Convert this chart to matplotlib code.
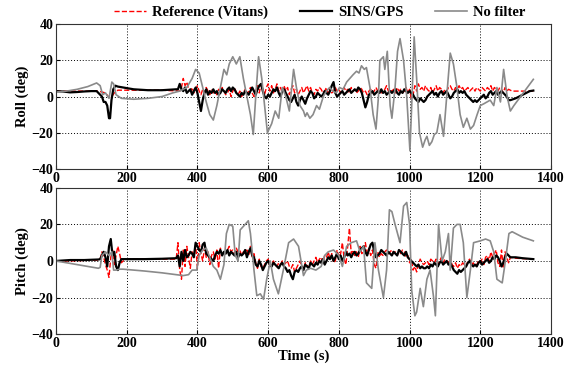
import numpy as np
import matplotlib.pyplot as plt

plt.rcParams['font.family'] = 'Liberation Serif'
plt.rcParams['font.weight'] = 'bold'

# ---------------- Roll ----------------
# calm part (breakpoints) before the vehicle starts moving
roll_ref_t0 = [0, 40, 80, 120, 140, 150, 158, 165, 175, 200, 250, 300, 345]
roll_ref_v0 = [3, 3, 3, 3, 2, -0.5, 0, 2, 3.5, 3.5, 3.5, 3.5, 3]
# noisy part sampled every 5 s from 350 s to 1280 s
roll_ref_noisy = [
    3, 5, 10, 6, 8, 4, 3, 5, 2, 4, 6, 3, 1, 4, 2, 5, 3, 1, 4, 2,
    3, 1, 4, 2, 5, 3, 1, 2, 4, 0, 3, 5, 2, 1, 3, 0, 2, 4, 1, 3,
    5, 2, 0, 3, 6, 2, 7, 4, 1, 5, 7, 3, 6, 2, 4, 7, 3, 5, 2, 6,
    3, 5, 1, 4, 6, 2, 4, 1, 3, 5, 2, 4, 6, 3, 5, 2, 1, 4, 3, 5,
    4, 2, 3, 5, 1, 4, 2, 3, 5, 3, 4, 2, 4, 5, 3, 4, 2, 5, 3, 4,
    2, 3, 5, 4, 2, 3, 1, 3, 4, 2, 3, 5, 3, 4, 2, 3, 4, 6, 3, 4,
    3, 4, 2, 5, 3, 4, 2, 3, 5, 2, 4, -1, 1, 6, 3, 7, 4, 5, 3, 6,
    4, 3, 5, 2, 4, 6, 3, 5, 4, 2, 4, 3, 5, 6, 4, 3, 5, 4, 6, 4,
    5, 3, 4, 5, 3, 4, 5, 3, 5, 4, 3, 5, 4, 3, 5, 4, 6, 3, 5, 4,
    3, 5, 4, 2, 5, 3, 4]
roll_ref_t1 = [1290, 1350]
roll_ref_v1 = [3, 3]

roll_ins_t0 = [0, 20, 40, 60, 80, 100, 115, 125, 130, 135, 140, 145, 150, 153,
               157, 162, 168, 175, 190, 220, 260, 300, 340, 345]
roll_ins_v0 = [3, 2.8, 2.3, 2.5, 2.8, 3, 3, 1, 0, -3, -3, -5, -12, -12,
               -2, 4, 6, 5.5, 5, 4, 3.5, 3.5, 4, 4]
roll_ins_noisy = [
    7, 4, 3, 5, 2, 3, 4, 1, 3, 5, 2, -3, -8, -2, 2, 4, 1, 3, 2, 4,
    2, 3, 1, 2, 4, 3, 2, 4, 5, 3, 5, 4, 2, 1, 0, 2, 1, 3, 2, 1,
    3, 5, 3, 1, 4, 6, 7, 3, 0, -1, 1, 0, 2, 4, 3, 5, 2, 0, 3, 4,
    2, 0, -2, -3, -1, 1, -3, -5, -2, 0, -2, -4, -1, 1, 3, 2, -1, 0, 2, 1,
    0, 1, 3, 2, 1, 3, 6, 8, 2, 0, 1, 2, 3, 1, 2, 3, 4, 2, 3, 4,
    3, 5, 4, 2, -2, -6, -3, 1, 2, 3, 1, 2, 3, 2, 4, 2, 3, 1, 2, 3,
    2, 3, 4, 2, 1, 3, 2, 4, 3, 2, 3, 2, 1, -1, -2, -3, -1, -2, -3, -2,
    0, 1, 2, 3, 1, 2, 0, 2, 3, 1, 2, 3, 1, -1, 0, 2, 3, 4, 2, 3,
    2, 3, 1, 0, -1, -2, -3, -2, -3, -2, -1, 0, 1, -1, 0, 2, 3, 1, 2, 3,
    1, 2, 3, 2, 1, 0, -2]
roll_ins_t1 = [1285, 1300, 1320, 1340, 1350]
roll_ins_v1 = [-2, -1, 1, 3, 3.3]

roll_raw_t = [0, 30, 60, 90, 115, 125, 132, 140, 150, 158, 163, 170, 185, 220, 260,
              300, 330, 350, 370, 385, 395, 405, 415, 425, 435, 445, 455, 465, 475,
              483, 490, 500, 510, 520, 530, 540, 550, 558, 565, 573, 582, 590, 598, 610,
              620, 630, 640, 650, 660, 672, 680, 690, 700, 705, 710, 718, 727, 737, 745,
              756, 765, 774, 783, 793, 802, 812, 822, 831, 840, 850, 857, 864, 872, 878,
              888, 897, 905, 912, 916, 926, 930, 937,
              945, 950, 959, 966, 973, 983, 992, 1001, 1007, 1013, 1020, 1028, 1037,
              1044, 1049, 1056, 1063, 1070, 1077, 1086, 1096, 1105, 1115, 1124, 1134,
              1143, 1152, 1162, 1167, 1172, 1181, 1191, 1200, 1210, 1219, 1228, 1238,
              1247, 1257, 1266, 1276, 1285, 1295, 1350]
roll_raw_v = [2.5, 3, 4, 5.5, 7.5, 6, 1, 2, -1, 8, 7, 1, -1, -1.5, -1,
              0, 2, 3, 5, 10, 15, 13, 5, -3, -10, -13, -5, 5, 15,
              12, 18, 22, 18, 22, 10, 0, -10, -21, 0, 22, 10, -5, -20, -15,
              -8, -12, 5, 0, -8, 15, 5, -5, -8, -11, -9, -12, -10, -5, -7,
              0, 3, 5, 3, 2, 5, 4, 8, 10, 12, 14, 13, 17, 15, 16,
              5, -10, -18, 0, 20, 22, 15, 25,
              -5, -12, 5, 25, 32, 20, 0, -30, 0, 33, 10, -20, -28,
              -24, -22, -27, -25, -21, -20, -10, -22, 0, 24, 18, 5,
              -10, -17, -12, -15, -18, -16, -10, -5, -4, -3, -2, -5,
              5, -3, 15, 0, -8, -5, 9.5]

# ---------------- Pitch ----------------
pitch_ref_t0 = [0, 40, 80, 120]
pitch_ref_v0 = [0, 0, 0.3, 0.5]
pitch_ref_burst = [1, 5, 2, -2, -5, -9, 2, 6, -2, 3, 8, 4, -1, 0]  # 125..190 s
pitch_ref_t1 = [200, 250, 300, 340]
pitch_ref_v1 = [1, 1.2, 1, 1]
pitch_ref_noisy = [  # 345..1285 s
    10, -5, -10, 6, -3, 8, 2, -4, 5, 3, 9, -4, 10, 4, 0, 7, 2, 5, -2, 3,
    5, 1, 6, -4, 7, 3, 5, 4, 6, 8, 5, 6, 4, 7, 5, 6, 3, 5, 4, 6,
    3, 8, 2, 4, -1, -4, 1, -3, -4, -2, 0, 1, -3, -2, 0, -2, -3, -1, -2, 0,
    -2, -1, 0, -3, -4, -2, -6, -4, -2, 0, -3, -5, -1, -2, -4, 0, -2, 0, 2, -1,
    1, 2, -1, 3, 2, 5, 1, 4, -1, 0, 6, 2, 4, 10, 1, -2, 8, 18, 4, 6,
    3, 5, 2, 8, 4, 6, 10, 4, 7, 3, 6, -2, -4, 5, 2, 4, 3, 5, 6, 4,
    5, 6, 4, 5, 3, 5, 4, 6, 5, 2, 3, -1, 1, -5, -3, -6, -2, 1, -1, -2,
    -1, 0, -2, 1, 0, -1, 1, -2, 0, 2, -1, 1, 0, -1, 2, -2, -3, -1, -4, -2,
    -3, -1, -2, -3, 0, 1, -2, -1, -3, -2, 0, -1, 1, -2, 2, 3, 0, 5, 2, 4,
    6, -1, -3, 6, -4, 5, 2, -1, 2]
pitch_ref_t2 = [1300, 1350]
pitch_ref_v2 = [1.5, 1]

pitch_ins_t0 = [0, 40, 80, 120]
pitch_ins_v0 = [0, 0.5, 0.5, 0.8]
pitch_ins_burst = [1, 3, 5, 2, -3, 8, 12, 3, 5, -3, -5, -1, 1, 1]
pitch_ins_t1 = [200, 250, 300, 340]
pitch_ins_v1 = [1, 1, 1.2, 1.5]
pitch_ins_noisy = [
    3, -3, 5, 0, 6, 2, 3, 5, 4, 2, 10, 8, 6, 5, 9, 10, 4, 3, 2, 1,
    0, 3, 5, 4, 6, 3, 5, 4, 6, 3, 5, 4, 3, 5, 2, 4, 3, 4, 6, 2,
    5, 7, 3, 2, -2, -3, 0, -2, -5, -3, -1, 0, -2, -3, -1, -2, -3, -4, -2, -1,
    -3, -4, -6, -5, -8, -10, -6, -5, -6, -4, -3, -5, -2, -3, -4, -1, -2, -3, -1, -2,
    0, -1, 1, -2, 0, 2, 1, 3, 0, 2, 4, 1, 3, 0, 2, 5, 3, 4, 2, 4,
    5, 3, 4, 6, 7, 8, 5, 3, 6, 9, 10, 5, 2, 3, 4, 6, 5, 4, 3, 5,
    4, 3, 5, 4, 3, 6, 5, 4, 3, 5, 2, 1, 0, -1, -2, -3, -2, -4, -3, -4,
    -4, -3, -4, -2, -3, -1, -2, -3, -1, 0, -2, -1, 0, -2, -1, -3, -5, -6, -7, -5,
    -6, -5, -4, -3, -1, 0, -2, -3, -2, -3, -1, 0, -2, -1, 0, 1, -1, 0, 2, 1,
    3, 2, 0, -3, -1, 2, 4, 3, 2]
pitch_ins_t2 = [1300, 1320, 1350]
pitch_ins_v2 = [2, 1.5, 1]

pitch_raw_t = [0, 60, 120, 125, 130, 140, 150, 158, 163, 170, 180, 190, 250, 300, 340,
               360, 375, 385, 398, 405, 415, 425, 435, 445, 455, 465, 475, 482, 490,
               500, 507, 515, 521, 535, 544, 550, 560, 568, 578, 587, 596, 606, 615,
               629, 643, 658, 672, 686, 700, 708, 720, 735, 750, 760, 770, 785, 800,
               810, 822, 835, 850, 860, 870, 878, 893, 902, 912, 926, 935, 943, 950,
               959, 973, 983, 992, 1000, 1006, 1015, 1020, 1030, 1039, 1049, 1058,
               1068, 1073, 1082, 1092, 1101, 1110, 1115, 1124, 1134, 1143, 1152, 1162,
               1172, 1181, 1200, 1215, 1228, 1238, 1247, 1262, 1271, 1281, 1290, 1320,
               1350]
pitch_raw_v = [0, -2, -4, -3.5, 3, 5, 3, 5, -5, -5, -4.5, -4.5, -5.5, -6.5, -7.5,
               -8, -7.5, -5, -5, 3, 6, 7, 2, -3, -5, -10, -2, 15, 20,
               19, 3, 0, 17, 20, 22, 15, -5, -19, -18, -21, -10, 0, -10,
               -18, -5, 10, 12, 8, -8, -5, -4, -5, -3, 3, 5, 6, 3,
               -3, 8, 10, 11, 5, 8, -12, -15, 10, -5, -20, -5, 28, 27,
               20, 10, 30, 32, 20, -16, -30, -28, -15, -25, -10, -5,
               -20, -30, 20, 0, 5, 15, -5, 18, 20, 20, 10, -20,
               -5, 10, 11, 12, 11, 5, -10, -12, 0, 15, 16, 13,
               11]


def build(parts):
    # parts: list of (t, v) pairs, concatenated in time order
    t = np.concatenate([np.asarray(p[0], float) for p in parts])
    v = np.concatenate([np.asarray(p[1], float) for p in parts])
    return t, v


def grid(start, vals):
    return np.arange(len(vals)) * 5 + start, vals


roll_ref = build([(roll_ref_t0, roll_ref_v0), grid(350, roll_ref_noisy), (roll_ref_t1, roll_ref_v1)])
roll_ins = build([(roll_ins_t0, roll_ins_v0), grid(350, roll_ins_noisy), (roll_ins_t1, roll_ins_v1)])
roll_raw = (np.array(roll_raw_t, float), np.array(roll_raw_v, float))

pitch_ref = build([(pitch_ref_t0, pitch_ref_v0), grid(125, pitch_ref_burst), (pitch_ref_t1, pitch_ref_v1),
                   grid(345, pitch_ref_noisy), (pitch_ref_t2, pitch_ref_v2)])
pitch_ins = build([(pitch_ins_t0, pitch_ins_v0), grid(125, pitch_ins_burst), (pitch_ins_t1, pitch_ins_v1),
                   grid(345, pitch_ins_noisy), (pitch_ins_t2, pitch_ins_v2)])
pitch_raw = (np.array(pitch_raw_t, float), np.array(pitch_raw_v, float))

fig = plt.figure(figsize=(5.71, 3.72), dpi=100)
ax1 = fig.add_axes([0.098, 0.546, 0.867, 0.389])
ax2 = fig.add_axes([0.098, 0.102, 0.867, 0.393])

for ax, ref, ins, raw, lab in [(ax1, roll_ref, roll_ins, roll_raw, 'Roll (deg)'),
                               (ax2, pitch_ref, pitch_ins, pitch_raw, 'Pitch (deg)')]:
    l1, = ax.plot(*ref, color='red', ls='--', lw=1.0, label='Reference (Vitans)')
    l2, = ax.plot(*ins, color='black', lw=1.6, label='SINS/GPS')
    l3, = ax.plot(*raw, color='#8a8a8a', lw=1.2, label='No filter')
    ax.set_xlim(0, 1400)
    ax.set_ylim(-40, 40)
    ax.set_xticks(np.arange(0, 1401, 200))
    ax.set_yticks(np.arange(-40, 41, 20))
    ax.grid(True, ls=(0, (1, 2)), color='black', lw=0.7)
    ax.tick_params(direction='in', labelsize=10, length=3, pad=2)
    ax.set_ylabel(lab, fontsize=10.5, fontweight='bold', labelpad=2)
    for s in ax.spines.values():
        s.set_linewidth(0.8)
        s.set_color('#333333')

ax2.set_xlabel('Time (s)', fontsize=10.5, fontweight='bold', labelpad=0)

fig.legend(handles=[l1, l2, l3], loc='upper center', bbox_to_anchor=(0.56, 1.02), ncol=3,
           frameon=False, fontsize=10.5, handlelength=2.2, columnspacing=2.2, handletextpad=0.4)

fig.savefig('out.png', dpi=100)
